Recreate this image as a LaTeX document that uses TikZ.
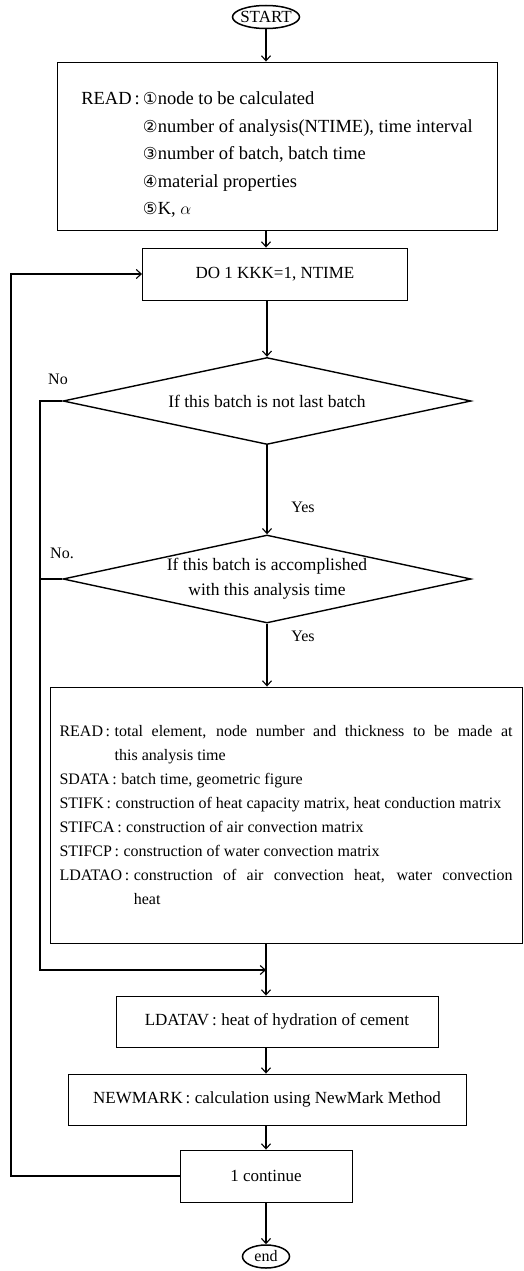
\documentclass[tikz,border=0pt]{standalone}
\usepackage{fontspec}
\setmainfont{Liberation Serif}
\newfontfamily\circfont{DejaVu Sans}
\usetikzlibrary{arrows.meta,positioning,shapes.geometric}
\newcommand{\circnum}[1]{{\circfont\fontsize{16.5}{16.5}\selectfont #1}}
\newcommand{\modentry}[2]{\setbox0=\hbox{#1\,:\hspace{4.5pt}}\hangindent=\wd0 \hangafter=1 \noindent\box0 #2\par}

\begin{document}
\begin{tikzpicture}[x=1pt, y=-1pt, >={Straight Barb[length=5pt,width=9pt]}]
    \tikzstyle{procbox} = [rectangle, draw, line width=0.9pt, inner sep=0pt,
                           font=\fontsize{17}{25}\selectfont]
    \tikzstyle{decision} = [diamond, draw, line width=1.4pt, aspect=4.7, inner sep=0pt,
                            align=center, font=\fontsize{17.5}{25}\selectfont]
    \tikzstyle{terminal} = [ellipse, draw, line width=1.5pt, inner xsep=-5pt, inner ysep=-1pt]
    \tikzstyle{lbl} = [font=\fontsize{16}{16}\selectfont, inner sep=0pt]
    \tikzstyle{link} = [line width=1.1pt]

    \useasboundingbox (0,0) rectangle (524,1271);

    % Terminals
    \node[terminal, minimum width=67pt, minimum height=23pt, font=\fontsize{17}{17}\selectfont]
        (start) at (266,17) {START};
    \node[terminal, minimum width=47pt, minimum height=23pt, font=\fontsize{16}{16}\selectfont]
        (finish) at (266,1256.5) {end};

    % Input and loop head
    \node[procbox, minimum width=440pt, minimum height=168pt, align=left,
          font=\fontsize{18.5}{27.5}\selectfont] (read) at (277,146)
        {\rule{0pt}{30pt}READ\,:\,\circnum{①}node to be calculated\\
         \hphantom{READ\,:\,}\circnum{②}number of analysis(NTIME), time interval\\
         \hphantom{READ\,:\,}\circnum{③}number of batch, batch time\\
         \hphantom{READ\,:\,}\circnum{④}material properties\\
         \hphantom{READ\,:\,}\circnum{⑤}K, $\alpha$};
    \node[procbox, minimum width=265pt, minimum height=52pt] (do) at (275,274) {DO 1 KKK=1, NTIME};

    % Decisions
    \node[decision, minimum width=408pt, minimum height=87pt] (dec1) at (267,401)
        {If this batch is not last batch};
    \node[decision, minimum width=408pt, minimum height=88pt] (dec2) at (267,579)
        {If this batch is accomplished\\with this analysis time};

    % Element data
    \node[procbox, minimum width=472pt, minimum height=256pt, text width=453pt, align=justify,
          font=\fontsize{16}{24}\selectfont] (calc) at (286,815)
        {\modentry{READ}{total element, node number and thickness to be made at\linebreak this analysis time}%
         \modentry{SDATA}{batch time, geometric figure}%
         \modentry{STIFK}{construction of heat capacity matrix, heat conduction matrix}%
         \modentry{STIFCA}{construction of air convection matrix}%
         \modentry{STIFCP}{construction of water convection matrix}%
         \modentry{LDATAO}{construction of air convection heat, water convection\linebreak heat}};

    % Solution steps
    \node[procbox, minimum width=322pt, minimum height=51pt] (ldatav) at (277,1021.5)
        {LDATAV\,:\hspace{4.5pt}heat of hydration of cement};
    \node[procbox, minimum width=398pt, minimum height=51pt] (newmark) at (267,1099.5)
        {NEWMARK\,:\hspace{4.5pt}calculation using NewMark Method};
    \node[procbox, minimum width=172pt, minimum height=52pt] (cont) at (266,1176) {1 continue};

    % Branch labels
    \node[lbl] (no1) at (58,379) {No};
    \node[lbl] (yes1) at (303,507) {Yes};
    \node[lbl] (no2) at (62,553) {No.};
    \node[lbl] (yes2) at (303,636) {Yes};

    \coordinate (merge) at (266,970);
    \coordinate (nobus) at (40,0);
    \coordinate (loopx) at (11,0);

    % Connections
    \draw[->, link] (start) -- (start |- read.north);
    \draw[->, link] (start |- read.south) -- (start |- do.north);
    \draw[->, link] (do.south -| dec1.north) -- (dec1.north);
    \draw[->, link] (dec1) -- (dec2);
    \draw[->, link] (dec2) -- (dec2 |- calc.north);
    \draw[->, link] (merge |- calc.south) -- (merge |- ldatav.north);
    \draw[->, link] (merge |- ldatav.south) -- (merge |- newmark.north);
    \draw[->, link] (merge |- newmark.south) -- (merge |- cont.north);
    \draw[->, link] (cont) -- (finish);

    \draw[->, link] (dec1.west) -- (dec1.west -| nobus) |- (merge);
    \draw[-, link] (dec2.west) -- (dec2.west -| nobus);
    \draw[->, link] (cont.west) -- (cont.west -| loopx) |- (do.west);
\end{tikzpicture}
\end{document}
